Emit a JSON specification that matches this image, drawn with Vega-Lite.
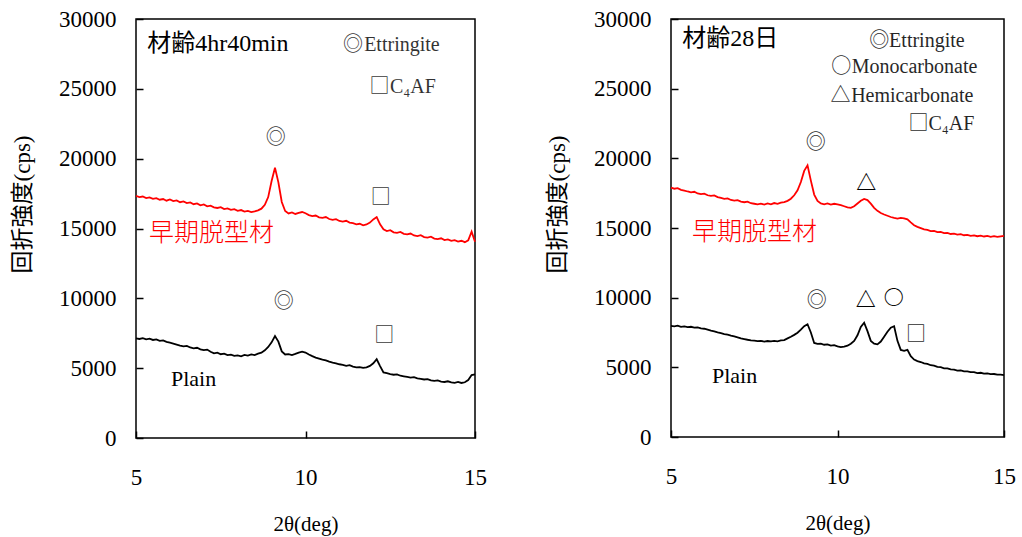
{
"$schema": "https://vega.github.io/schema/vega-lite/v6.json",
"background": "white",
"padding": {"left": 10, "top": 7, "right": 10, "bottom": 5},
"spacing": 57,
"config": {
  "view": {"stroke": "black", "strokeWidth": 1.5},
  "axis": {"domain": false, "grid": false, "tickSize": -7, "tickColor": "black", "tickWidth": 1.5, "zindex": 1,
    "labelFont": "Liberation Serif", "labelFontSize": 23, "labelColor": "black", "labelFlush": false, "format": "d",
    "titleFont": "Liberation Serif, Noto Sans CJK JP", "titleFontSize": 21, "titleFontWeight": "normal", "titleColor": "black"},
  "axisY": {"labelPadding": 27, "titlePadding": 24, "labelFont": "Liberation Serif", "titleFontSize": 23, "titleY": 185},
  "axisX": {"labelPadding": 35, "titlePadding": 24, "labelFont": "Liberation Serif"},
  "text": {"font": "Liberation Serif"}
},
"datasets": {
"curves": [
{"p":"L","s":"early","x":5.0,"y":17330},{"p":"L","s":"early","x":5.1,"y":17250},{"p":"L","s":"early","x":5.2,"y":17290},{"p":"L","s":"early","x":5.3,"y":17180},{"p":"L","s":"early","x":5.4,"y":17230},{"p":"L","s":"early","x":5.5,"y":17120},{"p":"L","s":"early","x":5.6,"y":17170},{"p":"L","s":"early","x":5.7,"y":17060},{"p":"L","s":"early","x":5.8,"y":17110},{"p":"L","s":"early","x":5.9,"y":16990},
{"p":"L","s":"early","x":6.0,"y":17080},{"p":"L","s":"early","x":6.1,"y":16960},{"p":"L","s":"early","x":6.2,"y":17010},{"p":"L","s":"early","x":6.3,"y":16880},{"p":"L","s":"early","x":6.4,"y":16940},{"p":"L","s":"early","x":6.5,"y":16820},{"p":"L","s":"early","x":6.6,"y":16870},{"p":"L","s":"early","x":6.7,"y":16740},{"p":"L","s":"early","x":6.8,"y":16800},{"p":"L","s":"early","x":6.9,"y":16660},
{"p":"L","s":"early","x":7.0,"y":16720},{"p":"L","s":"early","x":7.1,"y":16590},{"p":"L","s":"early","x":7.2,"y":16640},{"p":"L","s":"early","x":7.3,"y":16520},{"p":"L","s":"early","x":7.4,"y":16470},{"p":"L","s":"early","x":7.5,"y":16530},{"p":"L","s":"early","x":7.6,"y":16390},{"p":"L","s":"early","x":7.7,"y":16440},{"p":"L","s":"early","x":7.8,"y":16330},{"p":"L","s":"early","x":7.9,"y":16380},
{"p":"L","s":"early","x":8.0,"y":16270},{"p":"L","s":"early","x":8.1,"y":16320},{"p":"L","s":"early","x":8.2,"y":16210},{"p":"L","s":"early","x":8.3,"y":16260},{"p":"L","s":"early","x":8.4,"y":16170},{"p":"L","s":"early","x":8.5,"y":16230},{"p":"L","s":"early","x":8.6,"y":16300},{"p":"L","s":"early","x":8.7,"y":16420},{"p":"L","s":"early","x":8.8,"y":16700},{"p":"L","s":"early","x":8.9,"y":17250},
{"p":"L","s":"early","x":9.0,"y":18400},{"p":"L","s":"early","x":9.1,"y":19350},{"p":"L","s":"early","x":9.2,"y":18300},{"p":"L","s":"early","x":9.3,"y":16900},{"p":"L","s":"early","x":9.4,"y":16250},{"p":"L","s":"early","x":9.5,"y":16080},{"p":"L","s":"early","x":9.6,"y":16150},{"p":"L","s":"early","x":9.7,"y":16040},{"p":"L","s":"early","x":9.8,"y":16120},{"p":"L","s":"early","x":9.9,"y":16180},
{"p":"L","s":"early","x":10.0,"y":16090},{"p":"L","s":"early","x":10.1,"y":15960},{"p":"L","s":"early","x":10.2,"y":15890},{"p":"L","s":"early","x":10.3,"y":15930},{"p":"L","s":"early","x":10.4,"y":15800},{"p":"L","s":"early","x":10.5,"y":15760},{"p":"L","s":"early","x":10.6,"y":15820},{"p":"L","s":"early","x":10.7,"y":15680},{"p":"L","s":"early","x":10.8,"y":15620},{"p":"L","s":"early","x":10.9,"y":15670},
{"p":"L","s":"early","x":11.0,"y":15540},{"p":"L","s":"early","x":11.1,"y":15490},{"p":"L","s":"early","x":11.2,"y":15550},{"p":"L","s":"early","x":11.3,"y":15420},{"p":"L","s":"early","x":11.4,"y":15380},{"p":"L","s":"early","x":11.5,"y":15300},{"p":"L","s":"early","x":11.6,"y":15340},{"p":"L","s":"early","x":11.7,"y":15230},{"p":"L","s":"early","x":11.8,"y":15290},{"p":"L","s":"early","x":11.9,"y":15420},
{"p":"L","s":"early","x":12.0,"y":15650},{"p":"L","s":"early","x":12.1,"y":15820},{"p":"L","s":"early","x":12.2,"y":15300},{"p":"L","s":"early","x":12.3,"y":14950},{"p":"L","s":"early","x":12.4,"y":14820},{"p":"L","s":"early","x":12.5,"y":14880},{"p":"L","s":"early","x":12.6,"y":14730},{"p":"L","s":"early","x":12.7,"y":14690},{"p":"L","s":"early","x":12.8,"y":14750},{"p":"L","s":"early","x":12.9,"y":14620},
{"p":"L","s":"early","x":13.0,"y":14580},{"p":"L","s":"early","x":13.1,"y":14640},{"p":"L","s":"early","x":13.2,"y":14500},{"p":"L","s":"early","x":13.3,"y":14460},{"p":"L","s":"early","x":13.4,"y":14520},{"p":"L","s":"early","x":13.5,"y":14390},{"p":"L","s":"early","x":13.6,"y":14350},{"p":"L","s":"early","x":13.7,"y":14410},{"p":"L","s":"early","x":13.8,"y":14280},{"p":"L","s":"early","x":13.9,"y":14240},
{"p":"L","s":"early","x":14.0,"y":14300},{"p":"L","s":"early","x":14.1,"y":14170},{"p":"L","s":"early","x":14.2,"y":14220},{"p":"L","s":"early","x":14.3,"y":14110},{"p":"L","s":"early","x":14.4,"y":14160},{"p":"L","s":"early","x":14.5,"y":14060},{"p":"L","s":"early","x":14.6,"y":14120},{"p":"L","s":"early","x":14.7,"y":14020},{"p":"L","s":"early","x":14.8,"y":14150},{"p":"L","s":"early","x":14.9,"y":14770},{"p":"L","s":"early","x":15.0,"y":14050},
{"p":"L","s":"plain","x":5.0,"y":7140},{"p":"L","s":"plain","x":5.1,"y":7090},{"p":"L","s":"plain","x":5.2,"y":7150},{"p":"L","s":"plain","x":5.3,"y":7060},{"p":"L","s":"plain","x":5.4,"y":7110},{"p":"L","s":"plain","x":5.5,"y":7020},{"p":"L","s":"plain","x":5.6,"y":7060},{"p":"L","s":"plain","x":5.7,"y":6960},{"p":"L","s":"plain","x":5.8,"y":6990},{"p":"L","s":"plain","x":5.9,"y":6880},
{"p":"L","s":"plain","x":6.0,"y":6820},{"p":"L","s":"plain","x":6.1,"y":6760},{"p":"L","s":"plain","x":6.2,"y":6690},{"p":"L","s":"plain","x":6.3,"y":6620},{"p":"L","s":"plain","x":6.4,"y":6560},{"p":"L","s":"plain","x":6.5,"y":6600},{"p":"L","s":"plain","x":6.6,"y":6480},{"p":"L","s":"plain","x":6.7,"y":6420},{"p":"L","s":"plain","x":6.8,"y":6460},{"p":"L","s":"plain","x":6.9,"y":6350},
{"p":"L","s":"plain","x":7.0,"y":6290},{"p":"L","s":"plain","x":7.1,"y":6330},{"p":"L","s":"plain","x":7.2,"y":6180},{"p":"L","s":"plain","x":7.3,"y":6060},{"p":"L","s":"plain","x":7.4,"y":6110},{"p":"L","s":"plain","x":7.5,"y":6000},{"p":"L","s":"plain","x":7.6,"y":6040},{"p":"L","s":"plain","x":7.7,"y":5930},{"p":"L","s":"plain","x":7.8,"y":5970},{"p":"L","s":"plain","x":7.9,"y":5880},
{"p":"L","s":"plain","x":8.0,"y":5920},{"p":"L","s":"plain","x":8.1,"y":5850},{"p":"L","s":"plain","x":8.2,"y":5950},{"p":"L","s":"plain","x":8.3,"y":5900},{"p":"L","s":"plain","x":8.4,"y":5980},{"p":"L","s":"plain","x":8.5,"y":5940},{"p":"L","s":"plain","x":8.6,"y":6040},{"p":"L","s":"plain","x":8.7,"y":6110},{"p":"L","s":"plain","x":8.8,"y":6280},{"p":"L","s":"plain","x":8.9,"y":6520},
{"p":"L","s":"plain","x":9.0,"y":6850},{"p":"L","s":"plain","x":9.1,"y":7300},{"p":"L","s":"plain","x":9.2,"y":6900},{"p":"L","s":"plain","x":9.3,"y":6200},{"p":"L","s":"plain","x":9.4,"y":5980},{"p":"L","s":"plain","x":9.5,"y":6010},{"p":"L","s":"plain","x":9.6,"y":5940},{"p":"L","s":"plain","x":9.7,"y":6020},{"p":"L","s":"plain","x":9.8,"y":6110},{"p":"L","s":"plain","x":9.9,"y":6180},
{"p":"L","s":"plain","x":10.0,"y":6120},{"p":"L","s":"plain","x":10.1,"y":5980},{"p":"L","s":"plain","x":10.2,"y":5860},{"p":"L","s":"plain","x":10.3,"y":5760},{"p":"L","s":"plain","x":10.4,"y":5690},{"p":"L","s":"plain","x":10.5,"y":5610},{"p":"L","s":"plain","x":10.6,"y":5560},{"p":"L","s":"plain","x":10.7,"y":5470},{"p":"L","s":"plain","x":10.8,"y":5400},{"p":"L","s":"plain","x":10.9,"y":5350},
{"p":"L","s":"plain","x":11.0,"y":5280},{"p":"L","s":"plain","x":11.1,"y":5230},{"p":"L","s":"plain","x":11.2,"y":5170},{"p":"L","s":"plain","x":11.3,"y":5210},{"p":"L","s":"plain","x":11.4,"y":5110},{"p":"L","s":"plain","x":11.5,"y":5060},{"p":"L","s":"plain","x":11.6,"y":5080},{"p":"L","s":"plain","x":11.7,"y":5020},{"p":"L","s":"plain","x":11.8,"y":5060},{"p":"L","s":"plain","x":11.9,"y":5160},
{"p":"L","s":"plain","x":12.0,"y":5350},{"p":"L","s":"plain","x":12.1,"y":5640},{"p":"L","s":"plain","x":12.2,"y":5150},{"p":"L","s":"plain","x":12.3,"y":4700},{"p":"L","s":"plain","x":12.4,"y":4640},{"p":"L","s":"plain","x":12.5,"y":4580},{"p":"L","s":"plain","x":12.6,"y":4530},{"p":"L","s":"plain","x":12.7,"y":4560},{"p":"L","s":"plain","x":12.8,"y":4460},{"p":"L","s":"plain","x":12.9,"y":4420},
{"p":"L","s":"plain","x":13.0,"y":4380},{"p":"L","s":"plain","x":13.1,"y":4330},{"p":"L","s":"plain","x":13.2,"y":4360},{"p":"L","s":"plain","x":13.3,"y":4270},{"p":"L","s":"plain","x":13.4,"y":4240},{"p":"L","s":"plain","x":13.5,"y":4190},{"p":"L","s":"plain","x":13.6,"y":4220},{"p":"L","s":"plain","x":13.7,"y":4130},{"p":"L","s":"plain","x":13.8,"y":4090},{"p":"L","s":"plain","x":13.9,"y":4120},
{"p":"L","s":"plain","x":14.0,"y":4040},{"p":"L","s":"plain","x":14.1,"y":4010},{"p":"L","s":"plain","x":14.2,"y":4060},{"p":"L","s":"plain","x":14.3,"y":3980},{"p":"L","s":"plain","x":14.4,"y":3950},{"p":"L","s":"plain","x":14.5,"y":4010},{"p":"L","s":"plain","x":14.6,"y":3940},{"p":"L","s":"plain","x":14.7,"y":3990},{"p":"L","s":"plain","x":14.8,"y":4150},{"p":"L","s":"plain","x":14.9,"y":4510},{"p":"L","s":"plain","x":15.0,"y":4560},
{"p":"R","s":"early","x":5.0,"y":17890},{"p":"R","s":"early","x":5.1,"y":17820},{"p":"R","s":"early","x":5.2,"y":17860},{"p":"R","s":"early","x":5.3,"y":17740},{"p":"R","s":"early","x":5.4,"y":17690},{"p":"R","s":"early","x":5.5,"y":17620},{"p":"R","s":"early","x":5.6,"y":17560},{"p":"R","s":"early","x":5.7,"y":17600},{"p":"R","s":"early","x":5.8,"y":17480},{"p":"R","s":"early","x":5.9,"y":17430},
{"p":"R","s":"early","x":6.0,"y":17470},{"p":"R","s":"early","x":6.1,"y":17350},{"p":"R","s":"early","x":6.2,"y":17300},{"p":"R","s":"early","x":6.3,"y":17340},{"p":"R","s":"early","x":6.4,"y":17220},{"p":"R","s":"early","x":6.5,"y":17160},{"p":"R","s":"early","x":6.6,"y":17090},{"p":"R","s":"early","x":6.7,"y":17130},{"p":"R","s":"early","x":6.8,"y":17010},{"p":"R","s":"early","x":6.9,"y":16960},
{"p":"R","s":"early","x":7.0,"y":17000},{"p":"R","s":"early","x":7.1,"y":16900},{"p":"R","s":"early","x":7.2,"y":16850},{"p":"R","s":"early","x":7.3,"y":16890},{"p":"R","s":"early","x":7.4,"y":16780},{"p":"R","s":"early","x":7.5,"y":16740},{"p":"R","s":"early","x":7.6,"y":16700},{"p":"R","s":"early","x":7.7,"y":16750},{"p":"R","s":"early","x":7.8,"y":16680},{"p":"R","s":"early","x":7.9,"y":16760},
{"p":"R","s":"early","x":8.0,"y":16700},{"p":"R","s":"early","x":8.1,"y":16790},{"p":"R","s":"early","x":8.2,"y":16740},{"p":"R","s":"early","x":8.3,"y":16820},{"p":"R","s":"early","x":8.4,"y":16860},{"p":"R","s":"early","x":8.5,"y":16950},{"p":"R","s":"early","x":8.6,"y":17100},{"p":"R","s":"early","x":8.7,"y":17350},{"p":"R","s":"early","x":8.8,"y":17700},{"p":"R","s":"early","x":8.9,"y":18300},
{"p":"R","s":"early","x":9.0,"y":19100},{"p":"R","s":"early","x":9.1,"y":19500},{"p":"R","s":"early","x":9.2,"y":18400},{"p":"R","s":"early","x":9.3,"y":17400},{"p":"R","s":"early","x":9.4,"y":16950},{"p":"R","s":"early","x":9.5,"y":16760},{"p":"R","s":"early","x":9.6,"y":16700},{"p":"R","s":"early","x":9.7,"y":16760},{"p":"R","s":"early","x":9.8,"y":16680},{"p":"R","s":"early","x":9.9,"y":16740},
{"p":"R","s":"early","x":10.0,"y":16700},{"p":"R","s":"early","x":10.1,"y":16640},{"p":"R","s":"early","x":10.2,"y":16560},{"p":"R","s":"early","x":10.3,"y":16480},{"p":"R","s":"early","x":10.4,"y":16450},{"p":"R","s":"early","x":10.5,"y":16560},{"p":"R","s":"early","x":10.6,"y":16760},{"p":"R","s":"early","x":10.7,"y":16950},{"p":"R","s":"early","x":10.8,"y":17080},{"p":"R","s":"early","x":10.9,"y":17000},
{"p":"R","s":"early","x":11.0,"y":16750},{"p":"R","s":"early","x":11.1,"y":16450},{"p":"R","s":"early","x":11.2,"y":16230},{"p":"R","s":"early","x":11.3,"y":16080},{"p":"R","s":"early","x":11.4,"y":15970},{"p":"R","s":"early","x":11.5,"y":15880},{"p":"R","s":"early","x":11.6,"y":15790},{"p":"R","s":"early","x":11.7,"y":15720},{"p":"R","s":"early","x":11.8,"y":15680},{"p":"R","s":"early","x":11.9,"y":15720},
{"p":"R","s":"early","x":12.0,"y":15690},{"p":"R","s":"early","x":12.1,"y":15620},{"p":"R","s":"early","x":12.2,"y":15400},{"p":"R","s":"early","x":12.3,"y":15200},{"p":"R","s":"early","x":12.4,"y":15080},{"p":"R","s":"early","x":12.5,"y":14990},{"p":"R","s":"early","x":12.6,"y":14900},{"p":"R","s":"early","x":12.7,"y":14870},{"p":"R","s":"early","x":12.8,"y":14780},{"p":"R","s":"early","x":12.9,"y":14790},
{"p":"R","s":"early","x":13.0,"y":14700},{"p":"R","s":"early","x":13.1,"y":14720},{"p":"R","s":"early","x":13.2,"y":14630},{"p":"R","s":"early","x":13.3,"y":14650},{"p":"R","s":"early","x":13.4,"y":14570},{"p":"R","s":"early","x":13.5,"y":14600},{"p":"R","s":"early","x":13.6,"y":14530},{"p":"R","s":"early","x":13.7,"y":14560},{"p":"R","s":"early","x":13.8,"y":14480},{"p":"R","s":"early","x":13.9,"y":14510},
{"p":"R","s":"early","x":14.0,"y":14440},{"p":"R","s":"early","x":14.1,"y":14470},{"p":"R","s":"early","x":14.2,"y":14410},{"p":"R","s":"early","x":14.3,"y":14450},{"p":"R","s":"early","x":14.4,"y":14390},{"p":"R","s":"early","x":14.5,"y":14430},{"p":"R","s":"early","x":14.6,"y":14370},{"p":"R","s":"early","x":14.7,"y":14410},{"p":"R","s":"early","x":14.8,"y":14360},{"p":"R","s":"early","x":14.9,"y":14400},{"p":"R","s":"early","x":15.0,"y":14430},
{"p":"R","s":"plain","x":5.0,"y":7970},{"p":"R","s":"plain","x":5.1,"y":7940},{"p":"R","s":"plain","x":5.2,"y":7990},{"p":"R","s":"plain","x":5.3,"y":7900},{"p":"R","s":"plain","x":5.4,"y":7940},{"p":"R","s":"plain","x":5.5,"y":7880},{"p":"R","s":"plain","x":5.6,"y":7910},{"p":"R","s":"plain","x":5.7,"y":7850},{"p":"R","s":"plain","x":5.8,"y":7870},{"p":"R","s":"plain","x":5.9,"y":7800},
{"p":"R","s":"plain","x":6.0,"y":7770},{"p":"R","s":"plain","x":6.1,"y":7700},{"p":"R","s":"plain","x":6.2,"y":7630},{"p":"R","s":"plain","x":6.3,"y":7580},{"p":"R","s":"plain","x":6.4,"y":7510},{"p":"R","s":"plain","x":6.5,"y":7450},{"p":"R","s":"plain","x":6.6,"y":7390},{"p":"R","s":"plain","x":6.7,"y":7340},{"p":"R","s":"plain","x":6.8,"y":7270},{"p":"R","s":"plain","x":6.9,"y":7220},
{"p":"R","s":"plain","x":7.0,"y":7150},{"p":"R","s":"plain","x":7.1,"y":7080},{"p":"R","s":"plain","x":7.2,"y":7030},{"p":"R","s":"plain","x":7.3,"y":6980},{"p":"R","s":"plain","x":7.4,"y":6940},{"p":"R","s":"plain","x":7.5,"y":6910},{"p":"R","s":"plain","x":7.6,"y":6880},{"p":"R","s":"plain","x":7.7,"y":6900},{"p":"R","s":"plain","x":7.8,"y":6850},{"p":"R","s":"plain","x":7.9,"y":6890},
{"p":"R","s":"plain","x":8.0,"y":6860},{"p":"R","s":"plain","x":8.1,"y":6900},{"p":"R","s":"plain","x":8.2,"y":6870},{"p":"R","s":"plain","x":8.3,"y":6930},{"p":"R","s":"plain","x":8.4,"y":6960},{"p":"R","s":"plain","x":8.5,"y":7080},{"p":"R","s":"plain","x":8.6,"y":7200},{"p":"R","s":"plain","x":8.7,"y":7330},{"p":"R","s":"plain","x":8.8,"y":7480},{"p":"R","s":"plain","x":8.9,"y":7700},
{"p":"R","s":"plain","x":9.0,"y":7950},{"p":"R","s":"plain","x":9.1,"y":8090},{"p":"R","s":"plain","x":9.2,"y":7500},{"p":"R","s":"plain","x":9.3,"y":6750},{"p":"R","s":"plain","x":9.4,"y":6680},{"p":"R","s":"plain","x":9.5,"y":6700},{"p":"R","s":"plain","x":9.6,"y":6620},{"p":"R","s":"plain","x":9.7,"y":6650},{"p":"R","s":"plain","x":9.8,"y":6560},{"p":"R","s":"plain","x":9.9,"y":6590},
{"p":"R","s":"plain","x":10.0,"y":6500},{"p":"R","s":"plain","x":10.1,"y":6450},{"p":"R","s":"plain","x":10.2,"y":6480},{"p":"R","s":"plain","x":10.3,"y":6550},{"p":"R","s":"plain","x":10.4,"y":6700},{"p":"R","s":"plain","x":10.5,"y":6900},{"p":"R","s":"plain","x":10.6,"y":7300},{"p":"R","s":"plain","x":10.7,"y":7900},{"p":"R","s":"plain","x":10.8,"y":8200},{"p":"R","s":"plain","x":10.9,"y":7600},
{"p":"R","s":"plain","x":11.0,"y":6900},{"p":"R","s":"plain","x":11.1,"y":6700},{"p":"R","s":"plain","x":11.2,"y":6650},{"p":"R","s":"plain","x":11.3,"y":6850},{"p":"R","s":"plain","x":11.4,"y":7200},{"p":"R","s":"plain","x":11.5,"y":7550},{"p":"R","s":"plain","x":11.6,"y":7850},{"p":"R","s":"plain","x":11.7,"y":7950},{"p":"R","s":"plain","x":11.8,"y":6900},{"p":"R","s":"plain","x":11.9,"y":6250},
{"p":"R","s":"plain","x":12.0,"y":6180},{"p":"R","s":"plain","x":12.1,"y":6250},{"p":"R","s":"plain","x":12.2,"y":5800},{"p":"R","s":"plain","x":12.3,"y":5560},{"p":"R","s":"plain","x":12.4,"y":5450},{"p":"R","s":"plain","x":12.5,"y":5380},{"p":"R","s":"plain","x":12.6,"y":5280},{"p":"R","s":"plain","x":12.7,"y":5250},{"p":"R","s":"plain","x":12.8,"y":5150},{"p":"R","s":"plain","x":12.9,"y":5120},
{"p":"R","s":"plain","x":13.0,"y":5030},{"p":"R","s":"plain","x":13.1,"y":5010},{"p":"R","s":"plain","x":13.2,"y":4930},{"p":"R","s":"plain","x":13.3,"y":4920},{"p":"R","s":"plain","x":13.4,"y":4850},{"p":"R","s":"plain","x":13.5,"y":4840},{"p":"R","s":"plain","x":13.6,"y":4770},{"p":"R","s":"plain","x":13.7,"y":4780},{"p":"R","s":"plain","x":13.8,"y":4710},{"p":"R","s":"plain","x":13.9,"y":4710},
{"p":"R","s":"plain","x":14.0,"y":4650},{"p":"R","s":"plain","x":14.1,"y":4660},{"p":"R","s":"plain","x":14.2,"y":4590},{"p":"R","s":"plain","x":14.3,"y":4610},{"p":"R","s":"plain","x":14.4,"y":4550},{"p":"R","s":"plain","x":14.5,"y":4570},{"p":"R","s":"plain","x":14.6,"y":4510},{"p":"R","s":"plain","x":14.7,"y":4520},{"p":"R","s":"plain","x":14.8,"y":4470},{"p":"R","s":"plain","x":14.9,"y":4480},{"p":"R","s":"plain","x":15.0,"y":4440}
],
"notes": [
{"p":"L","k":"title","s":"plain","t":"材齢4hr40min","x":5.33,"y":28190},
{"p":"L","k":"sym","s":"plain","t":"◎","x":11.4,"y":28140},
{"p":"L","k":"legend","s":"plain","t":"Ettringite","x":11.73,"y":28140},
{"p":"L","k":"sym","s":"plain","t":"□","x":12.18,"y":25150},
{"p":"L","k":"legend","s":"plain","t":"C₄AF","x":12.49,"y":25150},
{"p":"L","k":"sym","s":"plain","t":"◎","x":9.12,"y":21500},
{"p":"L","k":"sym","s":"plain","t":"□","x":12.22,"y":17150},
{"p":"L","k":"sym","s":"plain","t":"◎","x":9.36,"y":9720},
{"p":"L","k":"sym","s":"plain","t":"□","x":12.32,"y":7270},
{"p":"L","k":"kanji","s":"early","t":"早期脱型材","x":5.38,"y":14680},
{"p":"L","k":"label","s":"plain","t":"Plain","x":6.03,"y":4225},
{"p":"R","k":"title","s":"plain","t":"材齢28日","x":5.34,"y":28600},
{"p":"R","k":"sym","s":"plain","t":"◎","x":11.25,"y":28420},
{"p":"R","k":"legend","s":"plain","t":"Ettringite","x":11.55,"y":28420},
{"p":"R","k":"sym","s":"plain","t":"○","x":10.11,"y":26520},
{"p":"R","k":"legend","s":"plain","t":"Monocarbonate","x":10.43,"y":26520},
{"p":"R","k":"sym","s":"plain","t":"△","x":10.09,"y":24470},
{"p":"R","k":"legend","s":"plain","t":"Hemicarbonate","x":10.41,"y":24470},
{"p":"R","k":"sym","s":"plain","t":"□","x":12.43,"y":22460},
{"p":"R","k":"legend","s":"plain","t":"C₄AF","x":12.73,"y":22460},
{"p":"R","k":"sym","s":"plain","t":"◎","x":9.35,"y":21120},
{"p":"R","k":"symb","s":"plain","t":"△","x":10.86,"y":18160},
{"p":"R","k":"sym","s":"plain","t":"◎","x":9.38,"y":9760},
{"p":"R","k":"symb","s":"plain","t":"△","x":10.85,"y":9760},
{"p":"R","k":"symb","s":"plain","t":"○","x":11.69,"y":9900},
{"p":"R","k":"sym","s":"plain","t":"□","x":12.36,"y":7320},
{"p":"R","k":"kanji","s":"early","t":"早期脱型材","x":5.63,"y":14710},
{"p":"R","k":"label","s":"plain","t":"Plain","x":6.23,"y":4380}
]
},
"hconcat": [
{
 "width": 339, "height": 419,
 "encoding": {
  "x": {"field": "x", "type": "quantitative", "scale": {"domain": [5, 15], "nice": false, "zero": false}, "axis": {"title": "2θ(deg)", "values": [5, 10, 15]}},
  "y": {"field": "y", "type": "quantitative", "scale": {"domain": [0, 30000], "nice": false}, "axis": {"title": "回折強度(cps)", "values": [0, 5000, 10000, 15000, 20000, 25000, 30000]}},
  "color": {"field": "s", "type": "nominal", "scale": {"domain": ["early", "plain"], "range": ["#ff0000", "#000000"]}, "legend": null}
 },
 "layer": [
  {"data": {"name": "curves"}, "transform": [{"filter": "datum.p === 'L'"}], "mark": {"type": "line", "strokeWidth": 1.8}},
  {"data": {"name": "notes"}, "transform": [{"filter": "datum.p === 'L' && datum.k === 'title'"}], "mark": {"type": "text", "align": "left", "baseline": "middle", "fontSize": 24, "font": "Liberation Serif, Noto Sans CJK JP"}, "encoding": {"text": {"field": "t"}}},
  {"data": {"name": "notes"}, "transform": [{"filter": "datum.p === 'L' && datum.k === 'legend'"}], "mark": {"type": "text", "align": "left", "baseline": "middle", "fontSize": 20, "opacity": 0.8}, "encoding": {"text": {"field": "t"}}},
  {"data": {"name": "notes"}, "transform": [{"filter": "datum.p === 'L' && datum.k === 'sym'"}], "mark": {"type": "text", "align": "center", "baseline": "middle", "fontSize": 20, "opacity": 0.8, "font": "Noto Sans CJK JP"}, "encoding": {"text": {"field": "t"}}},
  {"data": {"name": "notes"}, "transform": [{"filter": "datum.p === 'L' && datum.k === 'kanji'"}], "mark": {"type": "text", "align": "left", "baseline": "middle", "fontSize": 25, "font": "Noto Sans CJK JP", "fontWeight": 300}, "encoding": {"text": {"field": "t"}}},
  {"data": {"name": "notes"}, "transform": [{"filter": "datum.p === 'L' && datum.k === 'label'"}], "mark": {"type": "text", "align": "left", "baseline": "middle", "fontSize": 22}, "encoding": {"text": {"field": "t"}}}
 ]
},
{
 "width": 333, "height": 418,
 "encoding": {
  "x": {"field": "x", "type": "quantitative", "scale": {"domain": [5, 15], "nice": false, "zero": false}, "axis": {"title": "2θ(deg)", "values": [5, 10, 15]}},
  "y": {"field": "y", "type": "quantitative", "scale": {"domain": [0, 30000], "nice": false}, "axis": {"title": "回折強度(cps)", "values": [0, 5000, 10000, 15000, 20000, 25000, 30000]}},
  "color": {"field": "s", "type": "nominal", "scale": {"domain": ["early", "plain"], "range": ["#ff0000", "#000000"]}, "legend": null}
 },
 "layer": [
  {"data": {"name": "curves"}, "transform": [{"filter": "datum.p === 'R'"}], "mark": {"type": "line", "strokeWidth": 1.8}},
  {"data": {"name": "notes"}, "transform": [{"filter": "datum.p === 'R' && datum.k === 'title'"}], "mark": {"type": "text", "align": "left", "baseline": "middle", "fontSize": 24, "font": "Liberation Serif, Noto Sans CJK JP"}, "encoding": {"text": {"field": "t"}}},
  {"data": {"name": "notes"}, "transform": [{"filter": "datum.p === 'R' && datum.k === 'legend'"}], "mark": {"type": "text", "align": "left", "baseline": "middle", "fontSize": 20, "opacity": 0.85}, "encoding": {"text": {"field": "t"}}},
  {"data": {"name": "notes"}, "transform": [{"filter": "datum.p === 'R' && datum.k === 'sym'"}], "mark": {"type": "text", "align": "center", "baseline": "middle", "fontSize": 20, "opacity": 0.85, "font": "Noto Sans CJK JP"}, "encoding": {"text": {"field": "t"}}},
  {"data": {"name": "notes"}, "transform": [{"filter": "datum.p === 'R' && datum.k === 'symb'"}], "mark": {"type": "text", "align": "center", "baseline": "middle", "fontSize": 20, "font": "Noto Sans CJK JP", "fontWeight": "bold"}, "encoding": {"text": {"field": "t"}}},
  {"data": {"name": "notes"}, "transform": [{"filter": "datum.p === 'R' && datum.k === 'kanji'"}], "mark": {"type": "text", "align": "left", "baseline": "middle", "fontSize": 25, "font": "Noto Sans CJK JP", "fontWeight": 300}, "encoding": {"text": {"field": "t"}}},
  {"data": {"name": "notes"}, "transform": [{"filter": "datum.p === 'R' && datum.k === 'label'"}], "mark": {"type": "text", "align": "left", "baseline": "middle", "fontSize": 22}, "encoding": {"text": {"field": "t"}}}
 ]
}
]
}
